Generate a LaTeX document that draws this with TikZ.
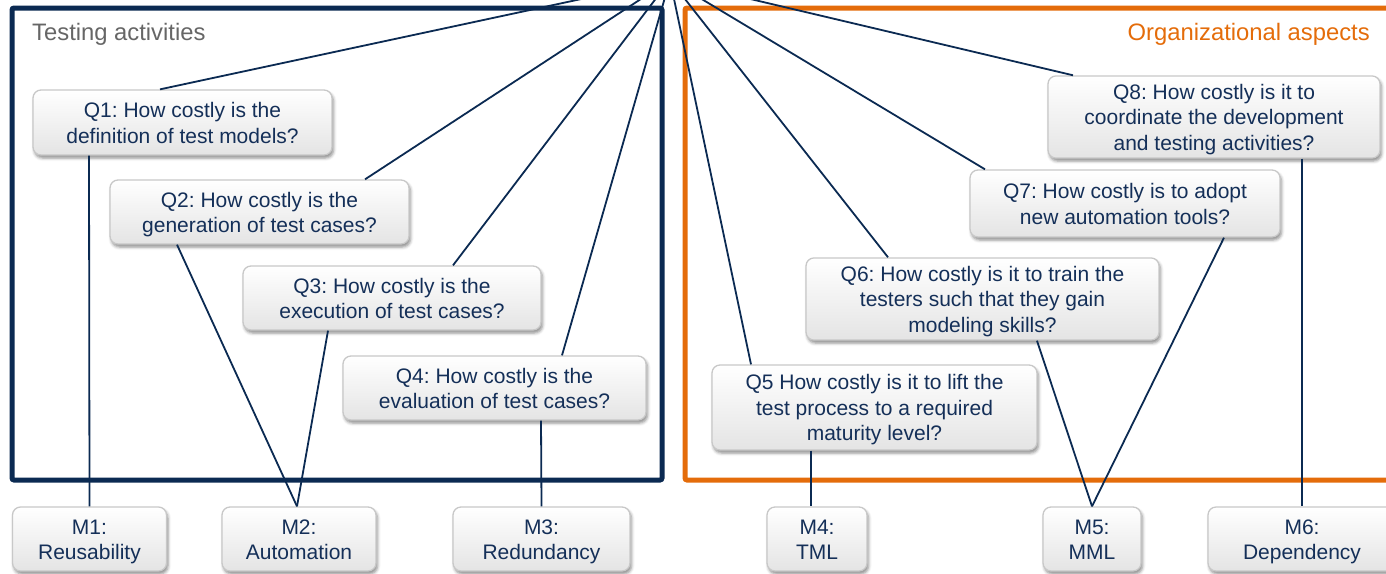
\documentclass[tikz,border=0pt]{standalone}
\usepackage{fontspec}
\setmainfont{Liberation Sans}
\usetikzlibrary{shadows.blur}
\definecolor{navy}{HTML}{0B2A52}
\definecolor{boxtext}{HTML}{142F58}
\definecolor{frameorange}{HTML}{E46C0A}
\definecolor{titlegray}{HTML}{666666}
\definecolor{boxedge}{HTML}{C8C8C8}
\definecolor{boxbottom}{HTML}{E4E4E4}
\frenchspacing
% invisible rule giving every first line the same height
\newcommand\qtop{\rule{0pt}{23.5pt}}
\begin{document}
\begin{tikzpicture}[x=1pt,y=-1pt,
  qbox/.style={rectangle, rounded corners=8pt, draw=boxedge, line width=1.3pt,
    top color=white, bottom color=boxbottom,
    blur shadow={shadow xshift=1.5pt, shadow yshift=-3pt, shadow blur radius=3pt, shadow opacity=45},
    align=center, text=boxtext, font=\fontsize{21}{25.5}\selectfont, inner sep=0pt,
    execute at end node=\strut},
  link/.style={draw=navy, line width=1.8pt},
  frame/.style={line width=5pt, rounded corners=2pt},
  heading/.style={font=\fontsize{23.8}{28}\selectfont, inner sep=0pt}
]
\useasboundingbox (0,0) rectangle (1386,573);
\clip (0,0) rectangle (1386,573);

% group frames
\draw[frame, navy] (12,8) rectangle (662,480);
\draw[frame, frameorange] (685,8) rectangle (1400,480);
\node[heading, text=titlegray, anchor=base west] (tl) at (32,40) {Testing activities};
\node[heading, text=frameorange, anchor=base east] (tr) at (1370,40) {Organizational aspects};

% common origin of the question links (above the visible area)
\coordinate (hub) at (670,-20);

% questions
\node[qbox, minimum width=299pt, minimum height=65pt] (q1) at (182.5,122.5) {\qtop Q1: How costly is the\\definition of test models?};
\node[qbox, minimum width=299pt, minimum height=64pt] (q2) at (259.5,212) {\qtop Q2: How costly is the\\generation of test cases?};
\node[qbox, minimum width=298pt, minimum height=64pt] (q3) at (392,298) {\qtop Q3: How costly is the\\execution of test cases?};
\node[qbox, minimum width=303pt, minimum height=64pt] (q4) at (494.5,388) {\qtop Q4: How costly is the\\evaluation of test cases?};
\node[qbox, minimum width=325pt, minimum height=85pt] (q5) at (874.5,407.5) {\qtop Q5 How costly is it to lift the\\test process to a required\\maturity level?};
\node[qbox, minimum width=353pt, minimum height=82pt] (q6) at (982.5,299) {\qtop Q6: How costly is it to train the\\testers such that they gain\\modeling skills?};
\node[qbox, minimum width=310pt, minimum height=67pt] (q7) at (1125,203.5) {\qtop Q7: How costly is to adopt\\new automation tools?};
\node[qbox, minimum width=332pt, minimum height=76pt] (q8) at (1214,117) {\qtop Q8: How costly is it to\\coordinate the development\\and testing activities?};

% metrics
\node[qbox, minimum width=154pt, minimum height=64pt] (m1) at (89.5,539) {\qtop M1:\\Reusability};
\node[qbox, minimum width=154pt, minimum height=64pt] (m2) at (299,539) {\qtop M2:\\Automation};
\node[qbox, minimum width=177pt, minimum height=64pt] (m3) at (541.5,539) {\qtop M3:\\Redundancy};
\node[qbox, minimum width=100pt, minimum height=64pt] (m4) at (817,539) {\qtop M4:\\TML};
\node[qbox, minimum width=98pt, minimum height=64pt] (m5) at (1092,539) {\qtop M5:\\MML};
\node[qbox, minimum width=188pt, minimum height=64pt] (m6) at (1302,539) {\qtop M6:\\Dependency};

% links from the goal to the questions
\draw[link] (hub) -- ([xshift=-22.5pt]q1.north);
\draw[link] (hub) -- ([xshift=105.5pt]q2.north);
\draw[link] (hub) -- ([xshift=61pt]q3.north);
\draw[link] (hub) -- ([xshift=67.5pt]q4.north);
\draw[link] (hub) -- ([xshift=-123.5pt]q5.north);
\draw[link] (hub) -- ([xshift=-94.5pt]q6.north);
\draw[link] (hub) -- ([xshift=-140pt]q7.north);
\draw[link] (hub) -- ([xshift=-141pt]q8.north);

% links from the questions to the metrics
\draw[link] ([xshift=-93.5pt]q1.south) -- (m1.north);
\draw[link] ([xshift=-82.5pt]q2.south) -- ([xshift=-2pt]m2.north);
\draw[link] ([xshift=-64pt]q3.south) -- ([xshift=-2pt]m2.north);
\draw[link] ([xshift=46.5pt]q4.south) -- (m3.north);
\draw[link] ([xshift=-63.5pt]q5.south) -- ([xshift=-6pt]m4.north);
\draw[link] ([xshift=54.5pt]q6.south) -- (m5.north);
\draw[link] ([xshift=99pt]q7.south) -- (m5.north);
\draw[link] ([xshift=88pt]q8.south) -- (m6.north);
\end{tikzpicture}
\end{document}
